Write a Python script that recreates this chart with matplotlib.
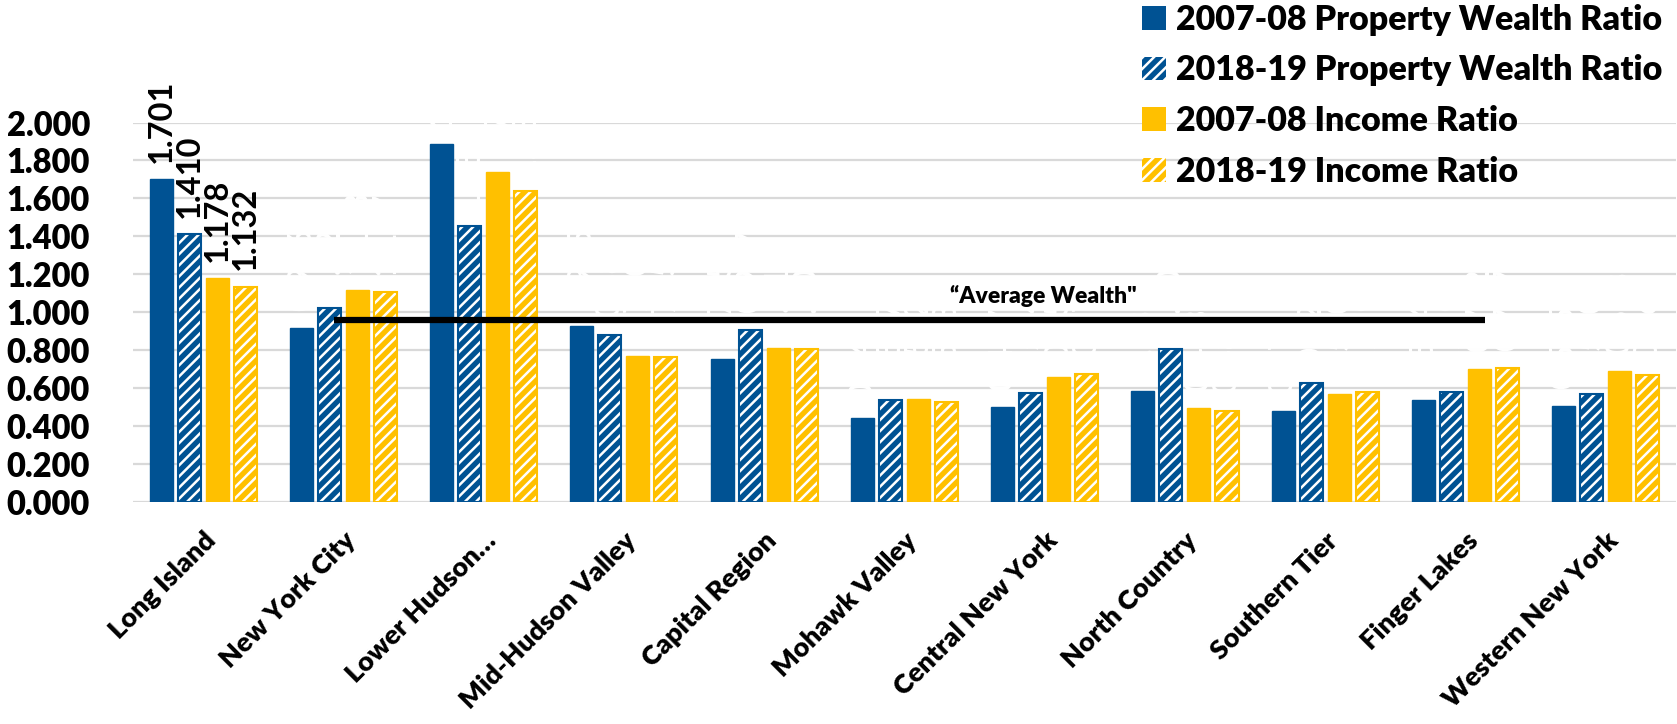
import matplotlib.pyplot as plt
from matplotlib.patches import Patch
import numpy as np

plt.rcParams['font.family'] = ['Lato', 'DejaVu Sans']
plt.rcParams['hatch.linewidth'] = 1.8

# Data
regions = ['Long Island', 'New York City', 'Lower Hudson\u2026', 'Mid-Hudson Valley',
           'Capital Region', 'Mohawk Valley', 'Central New York', 'North Country',
           'Southern Tier', 'Finger Lakes', 'Western New York']
pw_2007 = [1.701, 0.916, 1.888, 0.925, 0.755, 0.444, 0.497, 0.586, 0.476, 0.534, 0.505]
pw_2018 = [1.410, 1.021, 1.453, 0.881, 0.907, 0.537, 0.574, 0.805, 0.626, 0.579, 0.570]
inc_2007 = [1.178, 1.118, 1.741, 0.770, 0.810, 0.542, 0.656, 0.493, 0.570, 0.702, 0.688]
inc_2018 = [1.132, 1.107, 1.637, 0.765, 0.805, 0.528, 0.676, 0.481, 0.579, 0.707, 0.667]
series_names = ['2007-08 Property Wealth Ratio', '2018-19 Property Wealth Ratio',
                '2007-08 Income Ratio', '2018-19 Income Ratio']
average_wealth = 0.959

BLUE = '#005293'
GOLD = '#FFC000'
GRID = '#D9D9D9'
HEAVY = 'heavy'


def main():
    fig = plt.figure(figsize=(16.77, 7.24), dpi=100)
    ax = fig.add_axes([0.0793, 0.307, 0.920, 0.5238])

    series = [pw_2007, pw_2018, inc_2007, inc_2018]
    colors = [BLUE, BLUE, GOLD, GOLD]
    hatched = [False, True, False, True]
    x = np.arange(len(regions))
    step, width = 0.2, 0.164

    for k, vals in enumerate(series):
        pos = x + (k - 1.5) * step
        if hatched[k]:
            # white stripes over coloured face, then coloured outline
            ax.bar(pos, vals, width, color=colors[k], edgecolor='white', hatch='///',
                   linewidth=0, zorder=3)
            ax.bar(pos, vals, width, color='none', edgecolor=colors[k], linewidth=1.5, zorder=4)
        else:
            ax.bar(pos, vals, width, color=colors[k], edgecolor=colors[k], linewidth=1.0, zorder=3)
        # data labels: only Long Island's are visible, the rest are white
        for i, v in enumerate(vals):
            ax.annotate('{:.3f}'.format(v), (pos[i], v), xytext=(0, 12),
                        textcoords='offset points', rotation=90, ha='center', va='bottom',
                        fontsize=23.5, fontweight='bold',
                        color='black' if i == 0 else 'white',
                        annotation_clip=False, zorder=5)

    # "Average Wealth" line
    ax.plot([0.934, 9.137], [average_wealth, average_wealth], color='black', lw=4.5,
            solid_capstyle='butt', zorder=6)
    ax.text(5.99, 1.085, '\u201cAverage Wealth"', ha='center', va='center',
            fontsize=16.5, fontweight=HEAVY, zorder=6)

    ax.set_xlim(-0.5, len(regions) - 0.5)
    ax.set_ylim(0, 2.0)
    ticks = np.arange(0, 2.01, 0.2)
    ax.set_yticks(ticks)
    ax.set_yticklabels(['{:.3f}'.format(t) for t in ticks], fontsize=23.5, fontweight=HEAVY)
    ax.yaxis.grid(True, color=GRID, lw=1.6, zorder=0)
    ax.set_axisbelow(True)
    ax.tick_params(axis='y', length=0, pad=31)
    ax.tick_params(axis='x', length=0, pad=19)
    ax.set_xticks(x)
    ax.set_xticklabels(regions, rotation=45, ha='right', rotation_mode='anchor',
                       fontsize=19.5, fontweight=HEAVY)
    for s in ax.spines.values():
        s.set_visible(False)

    handles = []
    for k in range(4):
        if hatched[k]:
            handles.append(Patch(facecolor=colors[k], edgecolor='white', hatch='///', linewidth=0))
        else:
            handles.append(Patch(facecolor=colors[k], edgecolor=colors[k], linewidth=0))
    leg = fig.legend(handles, series_names, loc='upper left', bbox_to_anchor=(0.681, 0.995),
                     frameon=False, fontsize=24.5, handlelength=0.7, handleheight=0.7,
                     handletextpad=0.3, labelspacing=0.55, borderpad=0, borderaxespad=0)
    for t in leg.get_texts():
        t.set_fontweight(HEAVY)

    fig.savefig('out.png', dpi=100)


if __name__ == '__main__':
    main()
